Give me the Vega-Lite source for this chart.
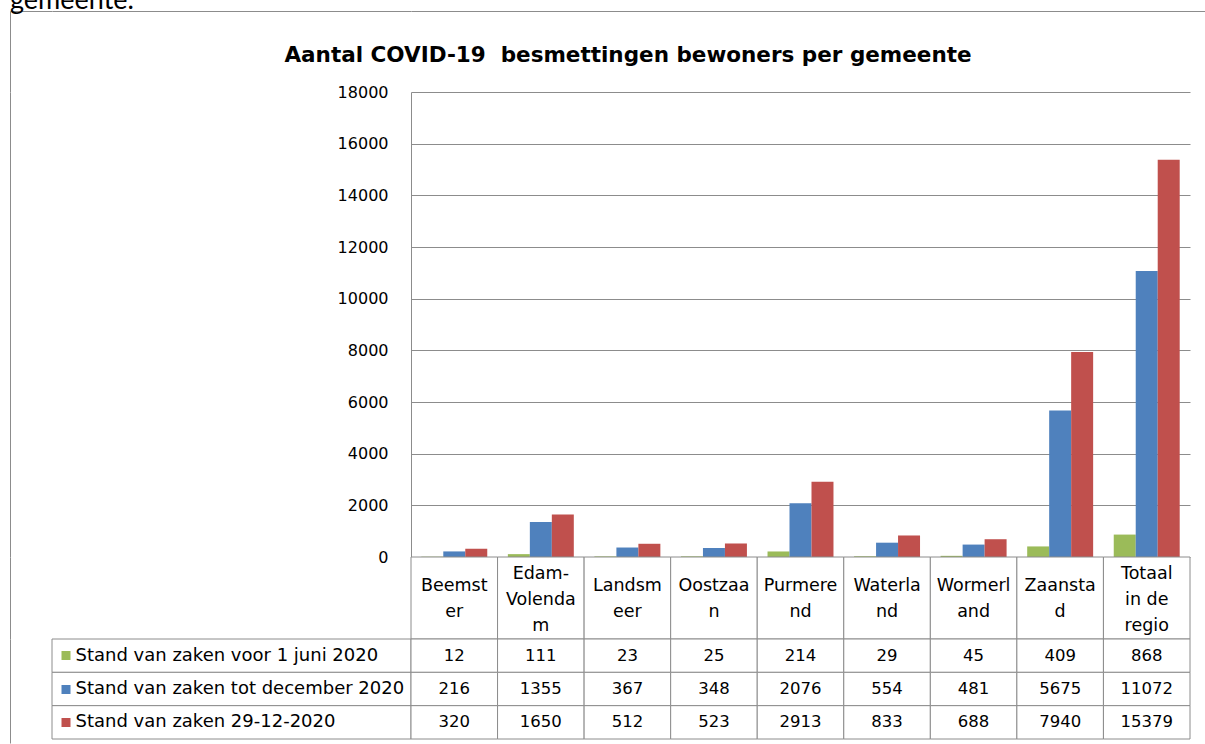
{
  "$schema": "https://vega.github.io/schema/vega-lite/v6.json",
  "padding": {"left": 9, "top": -14, "right": 0, "bottom": 0},
  "autosize": {"type": "pad"},
  "background": "white",
  "config": {"view": {"stroke": null}, "font": "DejaVu Sans"},
  "datasets": {
    "waarden": [
      {"gemeente": "Beemster", "reeks": "Stand van zaken voor 1 juni 2020", "waarde": 12},
      {"gemeente": "Edam-Volendam", "reeks": "Stand van zaken voor 1 juni 2020", "waarde": 111},
      {"gemeente": "Landsmeer", "reeks": "Stand van zaken voor 1 juni 2020", "waarde": 23},
      {"gemeente": "Oostzaan", "reeks": "Stand van zaken voor 1 juni 2020", "waarde": 25},
      {"gemeente": "Purmerend", "reeks": "Stand van zaken voor 1 juni 2020", "waarde": 214},
      {"gemeente": "Waterland", "reeks": "Stand van zaken voor 1 juni 2020", "waarde": 29},
      {"gemeente": "Wormerland", "reeks": "Stand van zaken voor 1 juni 2020", "waarde": 45},
      {"gemeente": "Zaanstad", "reeks": "Stand van zaken voor 1 juni 2020", "waarde": 409},
      {"gemeente": "Totaal in de regio", "reeks": "Stand van zaken voor 1 juni 2020", "waarde": 868},
      {"gemeente": "Beemster", "reeks": "Stand van zaken tot december 2020", "waarde": 216},
      {"gemeente": "Edam-Volendam", "reeks": "Stand van zaken tot december 2020", "waarde": 1355},
      {"gemeente": "Landsmeer", "reeks": "Stand van zaken tot december 2020", "waarde": 367},
      {"gemeente": "Oostzaan", "reeks": "Stand van zaken tot december 2020", "waarde": 348},
      {"gemeente": "Purmerend", "reeks": "Stand van zaken tot december 2020", "waarde": 2076},
      {"gemeente": "Waterland", "reeks": "Stand van zaken tot december 2020", "waarde": 554},
      {"gemeente": "Wormerland", "reeks": "Stand van zaken tot december 2020", "waarde": 481},
      {"gemeente": "Zaanstad", "reeks": "Stand van zaken tot december 2020", "waarde": 5675},
      {"gemeente": "Totaal in de regio", "reeks": "Stand van zaken tot december 2020", "waarde": 11072},
      {"gemeente": "Beemster", "reeks": "Stand van zaken 29-12-2020", "waarde": 320},
      {"gemeente": "Edam-Volendam", "reeks": "Stand van zaken 29-12-2020", "waarde": 1650},
      {"gemeente": "Landsmeer", "reeks": "Stand van zaken 29-12-2020", "waarde": 512},
      {"gemeente": "Oostzaan", "reeks": "Stand van zaken 29-12-2020", "waarde": 523},
      {"gemeente": "Purmerend", "reeks": "Stand van zaken 29-12-2020", "waarde": 2913},
      {"gemeente": "Waterland", "reeks": "Stand van zaken 29-12-2020", "waarde": 833},
      {"gemeente": "Wormerland", "reeks": "Stand van zaken 29-12-2020", "waarde": 688},
      {"gemeente": "Zaanstad", "reeks": "Stand van zaken 29-12-2020", "waarde": 7940},
      {"gemeente": "Totaal in de regio", "reeks": "Stand van zaken 29-12-2020", "waarde": 15379}
    ],
    "gemeenten": [
      {"gemeente": "Beemster", "label": "Beemst\ner"},
      {"gemeente": "Edam-Volendam", "label": "Edam-\nVolenda\nm"},
      {"gemeente": "Landsmeer", "label": "Landsm\neer"},
      {"gemeente": "Oostzaan", "label": "Oostzaa\nn"},
      {"gemeente": "Purmerend", "label": "Purmere\nnd"},
      {"gemeente": "Waterland", "label": "Waterla\nnd"},
      {"gemeente": "Wormerland", "label": "Wormerl\nand"},
      {"gemeente": "Zaanstad", "label": "Zaansta\nd"},
      {"gemeente": "Totaal in de regio", "label": "Totaal\nin de\nregio"}
    ],
    "reeksen": [
      {"reeks": "Stand van zaken voor 1 juni 2020"},
      {"reeks": "Stand van zaken tot december 2020"},
      {"reeks": "Stand van zaken 29-12-2020"}
    ],
    "leeg": [{}]
  },
  "columns": 3,
  "spacing": 0,
  "bounds": "flush",
  "align": "each",
  "concat": [
    {
      "width": 42, "height": 81,
      "view": {"stroke": "#8c8c8c", "strokeWidth": 1, "strokeDash": [42, 123, 81, 0]},
      "title": {"text": "gemeente.", "anchor": "start", "frame": "group", "font": "Lato", "fontSize": 27, "fontWeight": "normal", "color": "#000000", "baseline": "alphabetic", "offset": -24.5},
      "data": {"name": "leeg"},
      "mark": {"type": "point", "opacity": 0},
      "encoding": {}
    },
    {
      "width": 359, "height": 81,
      "view": {"stroke": "#8c8c8c", "strokeWidth": 1, "strokeDash": [359, 521]},
      "data": {"name": "leeg"},
      "mark": {"type": "point", "opacity": 0},
      "encoding": {}
    },
    {
      "width": 794, "height": 81,
      "view": {"stroke": "#8c8c8c", "strokeWidth": 1, "strokeDash": [794, 956]},
      "data": {"name": "leeg"},
      "mark": {"type": "point", "opacity": 0},
      "encoding": {}
    },
    {
      "width": 42, "height": 465,
      "view": {"stroke": "#8c8c8c", "strokeWidth": 1, "strokeDash": [0, 549, 465, 0]},
      "data": {"name": "leeg"},
      "mark": {"type": "point", "opacity": 0},
      "encoding": {}
    },
    {
      "width": 359, "height": 465,
      "data": {"name": "leeg"},
      "mark": {"type": "point", "opacity": 0},
      "encoding": {}
    },
    {
      "width": 779,
      "height": 465,
      "title": {"text": "Aantal COVID-19\u00a0 besmettingen bewoners per gemeente", "frame": "group", "font": "DejaVu Sans", "fontWeight": "bold", "fontSize": 21.5, "color": "#000000", "anchor": "middle", "dx": -172.5, "baseline": "alphabetic", "offset": 1},
      "data": {"name": "waarden"},
      "mark": {"type": "bar"},
      "encoding": {
        "x": {
          "field": "gemeente", "type": "nominal",
          "sort": ["Beemster", "Edam-Volendam", "Landsmeer", "Oostzaan", "Purmerend", "Waterland", "Wormerland", "Zaanstad", "Totaal in de regio"],
          "scale": {"paddingInner": 0.238, "paddingOuter": 0.119},
          "axis": null
        },
        "xOffset": {
          "field": "reeks", "type": "nominal",
          "sort": ["Stand van zaken voor 1 juni 2020", "Stand van zaken tot december 2020", "Stand van zaken 29-12-2020"],
          "scale": {"paddingInner": 0, "paddingOuter": 0}
        },
        "y": {
          "field": "waarde", "type": "quantitative",
          "scale": {"domain": [0, 18000], "nice": false},
          "axis": {
            "title": null, "values": [0, 2000, 4000, 6000, 8000, 10000, 12000, 14000, 16000, 18000],
            "format": "d", "ticks": false, "tickSize": 0, "labelPadding": 23,
            "labelFont": "DejaVu Sans", "labelFontSize": 16, "labelColor": "#000000",
            "domain": true, "domainColor": "#8c8c8c", "domainWidth": 1,
            "grid": true, "gridColor": "#8c8c8c", "gridOpacity": 1, "gridWidth": 1
          }
        },
        "color": {
          "field": "reeks", "type": "nominal",
          "scale": {
            "domain": ["Stand van zaken voor 1 juni 2020", "Stand van zaken tot december 2020", "Stand van zaken 29-12-2020"],
            "range": ["#9bbb59", "#4f81bd", "#c0504d"]
          },
          "legend": null
        }
      }
    },
    {
      "width": 42, "height": 82,
      "view": {"stroke": "#8c8c8c", "strokeWidth": 1, "strokeDash": [0, 166, 82, 0]},
      "data": {"name": "leeg"},
      "mark": {"type": "point", "opacity": 0},
      "encoding": {}
    },
    {
      "width": 359, "height": 82,
      "data": {"name": "leeg"},
      "mark": {"type": "point", "opacity": 0},
      "encoding": {}
    },
    {
      "width": 779,
      "height": 82,
      "data": {"name": "gemeenten"},
      "encoding": {
        "x": {
          "field": "gemeente", "type": "nominal",
          "sort": ["Beemster", "Edam-Volendam", "Landsmeer", "Oostzaan", "Purmerend", "Waterland", "Wormerland", "Zaanstad", "Totaal in de regio"],
          "scale": {"paddingInner": 0, "paddingOuter": 0},
          "axis": null
        }
      },
      "layer": [
        {"mark": {"type": "rect", "fill": "white", "stroke": "#8c8c8c", "strokeWidth": 1}},
        {
          "transform": [{"filter": "datum.gemeente !== 'Edam-Volendam' && datum.gemeente !== 'Totaal in de regio'"}],
          "mark": {"type": "text", "lineBreak": "\n", "lineHeight": 26, "font": "DejaVu Sans", "fontSize": 17.5, "color": "#000000", "baseline": "middle", "align": "center", "dy": -12},
          "encoding": {"text": {"field": "label"}}
        },
        {
          "transform": [{"filter": "datum.gemeente === 'Edam-Volendam' || datum.gemeente === 'Totaal in de regio'"}],
          "mark": {"type": "text", "lineBreak": "\n", "lineHeight": 26, "font": "DejaVu Sans", "fontSize": 17.5, "color": "#000000", "baseline": "middle", "align": "center", "dy": -24},
          "encoding": {"text": {"field": "label"}}
        }
      ]
    },
    {
      "width": 42, "height": 104,
      "view": {"stroke": "#8c8c8c", "strokeWidth": 1, "strokeDash": [0, 188, 104, 0]},
      "data": {"name": "leeg"},
      "mark": {"type": "point", "opacity": 0},
      "encoding": {}
    },
    {
      "width": 359,
      "height": 100,
      "data": {"name": "reeksen"},
      "mark": {"type": "rect", "fill": "white", "stroke": "#8c8c8c", "strokeWidth": 1},
      "encoding": {
        "y": {
          "field": "reeks", "type": "nominal",
          "sort": ["Stand van zaken voor 1 juni 2020", "Stand van zaken tot december 2020", "Stand van zaken 29-12-2020"],
          "scale": {"paddingInner": 0, "paddingOuter": 0},
          "axis": {
            "orient": "left", "offset": -18, "title": null, "domain": false, "grid": false,
            "ticks": true, "tickSize": 9, "tickWidth": 9, "tickCap": "butt",
            "tickColor": {
              "condition": [
                {"test": "datum.value === 'Stand van zaken voor 1 juni 2020'", "value": "#9bbb59"},
                {"test": "datum.value === 'Stand van zaken tot december 2020'", "value": "#4f81bd"}
              ],
              "value": "#c0504d"
            },
            "labelAlign": "left", "labelPadding": -14, "labelLimit": 500,
            "labelFont": "DejaVu Sans", "labelFontSize": 18, "labelColor": "#000000", "labelBaseline": "middle"
          }
        }
      }
    },
    {
      "width": 779,
      "height": 100,
      "data": {"name": "waarden"},
      "encoding": {
        "x": {
          "field": "gemeente", "type": "nominal",
          "sort": ["Beemster", "Edam-Volendam", "Landsmeer", "Oostzaan", "Purmerend", "Waterland", "Wormerland", "Zaanstad", "Totaal in de regio"],
          "scale": {"paddingInner": 0, "paddingOuter": 0},
          "axis": null
        },
        "y": {
          "field": "reeks", "type": "nominal",
          "sort": ["Stand van zaken voor 1 juni 2020", "Stand van zaken tot december 2020", "Stand van zaken 29-12-2020"],
          "scale": {"paddingInner": 0, "paddingOuter": 0},
          "axis": null
        }
      },
      "layer": [
        {"mark": {"type": "rect", "fill": "white", "stroke": "#8c8c8c", "strokeWidth": 1}},
        {
          "mark": {"type": "text", "font": "DejaVu Sans", "fontSize": 16.5, "color": "#000000", "baseline": "middle", "align": "center"},
          "encoding": {"text": {"field": "waarde", "type": "quantitative", "format": "d"}}
        }
      ]
    }
  ]
}
